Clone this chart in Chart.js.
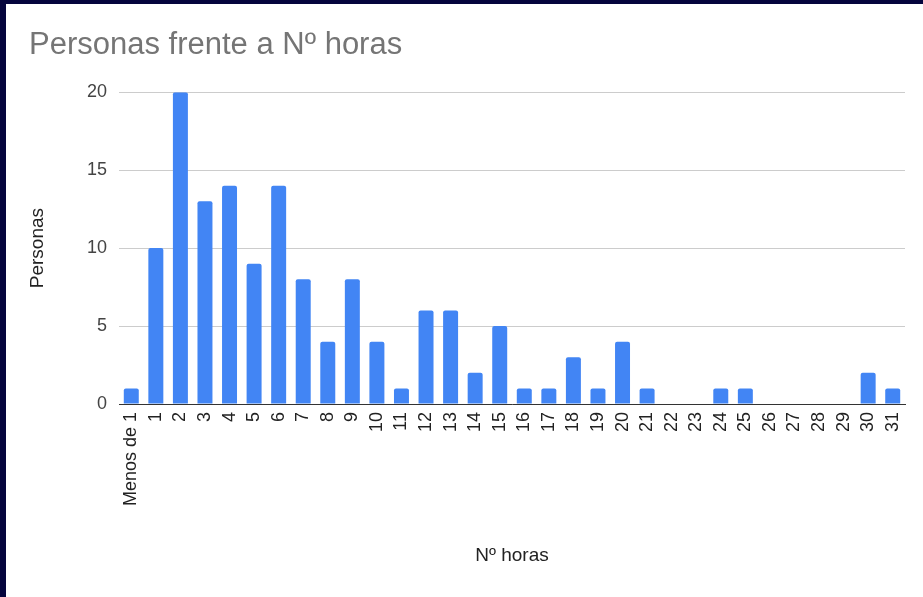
<!DOCTYPE html>
<html>
<head>
<meta charset="utf-8">
<script src="https://cdn.jsdelivr.net/npm/chart.js@4/dist/chart.umd.min.js"></script>
<style>
  html, body { margin: 0; padding: 0; background: #05053d; }
  #wrap { position: absolute; left: 6px; top: 4px; width: 917px; height: 593px; background: #ffffff; }
</style>
</head>
<body>
<div id="wrap"><canvas id="chart" width="917" height="593"></canvas></div>
<script>
const categories = ["Menos de 1", "1", "2", "3", "4", "5", "6", "7", "8", "9", "10",
  "11", "12", "13", "14", "15", "16", "17", "18", "19", "20",
  "21", "22", "23", "24", "25", "26", "27", "28", "29", "30", "31"];
const personas = [1, 10, 20, 13, 14, 9, 14, 8, 4, 8, 4,
  1, 6, 6, 2, 5, 1, 1, 3, 1, 4,
  1, 0, 0, 1, 1, 0, 0, 0, 0, 2, 1];
const yTicks = [0, 5, 10, 15, 20];

const FONT = "'Liberation Sans', Arial, sans-serif";

const chartElement = document.getElementById("chart");
chartElement.chart = new Chart(chartElement, {
  type: "bar",
  data: {
    labels: categories,
    datasets: [
      {
        data: personas,
        backgroundColor: "#4285f4",
        borderWidth: 0,
        borderRadius: { topLeft: 2, topRight: 2 },
        borderSkipped: "bottom",
        categoryPercentage: 1,
        barPercentage: 0.61,
      },
    ],
  },
  options: {
    responsive: false,
    animation: false,
    layout: { padding: { left: 23, right: 18, top: 0, bottom: 0 } },
    plugins: {
      legend: { display: false },
      tooltip: { enabled: false },
      title: {
        display: true,
        text: "Personas frente a Nº horas",
        align: "start",
        color: "#757575",
        font: { family: FONT, size: 31, weight: "normal" },
        padding: { top: 23, bottom: 28 },
      },
    },
    scales: {
      x: {
        grid: { display: false, drawTicks: false },
        border: { display: true, color: "#333333", width: 1 },
        ticks: {
          autoSkip: false,
          minRotation: 90,
          maxRotation: 90,
          padding: 8,
          color: "#222222",
          font: { family: FONT, size: 18 },
        },
        title: {
          display: true,
          text: "Nº horas",
          color: "#222222",
          font: { family: FONT, size: 19 },
          padding: { top: 0, bottom: 30 },
        },
        afterFit: function(scale) {
          scale.height = 193;
        },
      },
      y: {
        min: 0,
        max: 20,
        afterBuildTicks: function(scale) {
          scale.ticks = yTicks.map(v => ({ value: v }));
        },
        grid: { color: "#cccccc", drawTicks: false },
        border: { display: false },
        ticks: {
          padding: 12,
          color: "#444444",
          font: { family: FONT, size: 18 },
        },
        title: {
          display: true,
          text: "Personas",
          color: "#222222",
          font: { family: FONT, size: 19 },
          padding: { top: -3, bottom: 0 },
        },
        afterFit: function(scale) {
          scale.width = 90;
        },
      },
    },
  },
});
</script>
</body>
</html>
